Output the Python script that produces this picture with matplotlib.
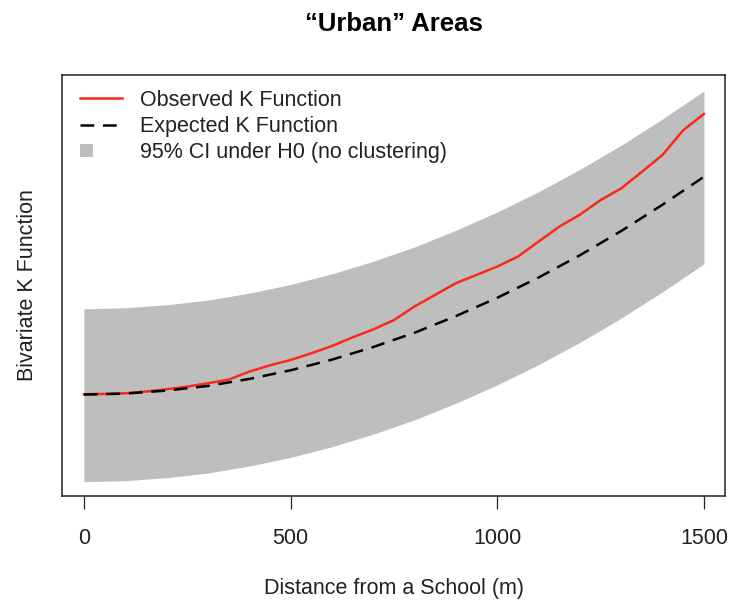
import numpy as np
import matplotlib
matplotlib.use('Agg')
import matplotlib.pyplot as plt
from matplotlib.patches import Rectangle
from matplotlib.legend_handler import HandlerPatch

plt.rcParams['font.family'] = ['Liberation Sans', 'DejaVu Sans']

# values (arbitrary units, the y axis carries no labels)
dist_obs = np.arange(0, 1501, 50)
k_obs = np.array([30.6, 30.7, 30.9, 31.4, 32.1, 32.9, 33.9, 35.0, 37.4, 39.3, 40.9,
                  42.9, 45.1, 47.7, 50.1, 52.9, 57.0, 60.5, 64.0, 66.5, 69.0,
                  72.0, 76.5, 81.0, 84.6, 89.0, 92.5, 97.5, 102.6, 110.0, 114.9])

dist = np.array([0, 100, 200, 300, 400, 500, 600, 700, 800, 900, 1000, 1100, 1200, 1300, 1400, 1500])
k_exp = np.array([30.5, 30.8, 31.7, 33.1, 35.2, 37.8, 41.0, 44.8, 49.1, 54.1, 59.6, 65.7, 72.4, 79.7, 87.6, 96.0])
ci_lo = np.array([4.3, 4.6, 5.5, 6.9, 9.0, 11.6, 14.8, 18.6, 22.9, 27.9, 33.4, 39.5, 46.2, 53.5, 61.4, 69.8])
ci_hi = np.array([56.3, 56.6, 57.5, 58.9, 61.0, 63.6, 66.8, 70.6, 74.9, 79.9, 85.4, 91.5, 98.2, 105.5, 113.4, 121.8])
xticks = [0, 500, 1000, 1500]


class BoxHandler(HandlerPatch):
    # R style filled square on the left side of the key
    def create_artists(self, legend, orig_handle, xdescent, ydescent,
                       width, height, fontsize, trans):
        s = height * 0.85
        p = Rectangle((-xdescent, -ydescent + (height - s) / 2), s, s,
                      facecolor=orig_handle.get_facecolor(), edgecolor='none',
                      transform=trans)
        return [p]


fig = plt.figure(figsize=(7.29, 6.01), dpi=100)
ax = fig.add_axes([62 / 729, 1 - 496 / 601, 663 / 729, 421 / 601])

band = ax.fill_between(dist, ci_lo, ci_hi, color='#bebebe', linewidth=0)
l_obs, = ax.plot(dist_obs, k_obs, color='#fa2a1a', lw=1.8)
l_exp, = ax.plot(dist, k_exp, color='black', lw=1.8, dashes=(5.5, 3.5))

ax.set_xlim(-53, 1551)
ax.set_ylim(0, 126.6)
ax.set_xticks(xticks)
ax.set_xticklabels([str(t) for t in xticks])
ax.set_yticks([])
ax.tick_params(axis='x', length=9.5, width=0.9, pad=13.5, labelsize=15.5, colors='#222222')
for sp in ax.spines.values():
    sp.set_linewidth(1.1)
    sp.set_color('#222222')

ax.set_xlabel('Distance from a School (m)', fontsize=15.5, labelpad=21, color='#222222')
ax.set_ylabel('Bivariate K Function', fontsize=15.5, labelpad=17, color='#222222')
ax.set_title('\u201cUrban\u201d Areas', fontsize=18.5, fontweight='bold', pad=32)

lg = ax.legend([l_obs, l_exp, band],
               ['Observed K Function', 'Expected K Function', '95% CI under H0 (no clustering)'],
               handler_map={band: BoxHandler()},
               loc='upper left', bbox_to_anchor=(18 / 663, 1 - 15 / 421),
               frameon=False, fontsize=15.5, borderpad=0, borderaxespad=0,
               handlelength=1.95, handletextpad=0.85, labelspacing=0.24)
for t in lg.get_texts():
    t.set_color('#222222')

plt.savefig('out.png', dpi=100)
